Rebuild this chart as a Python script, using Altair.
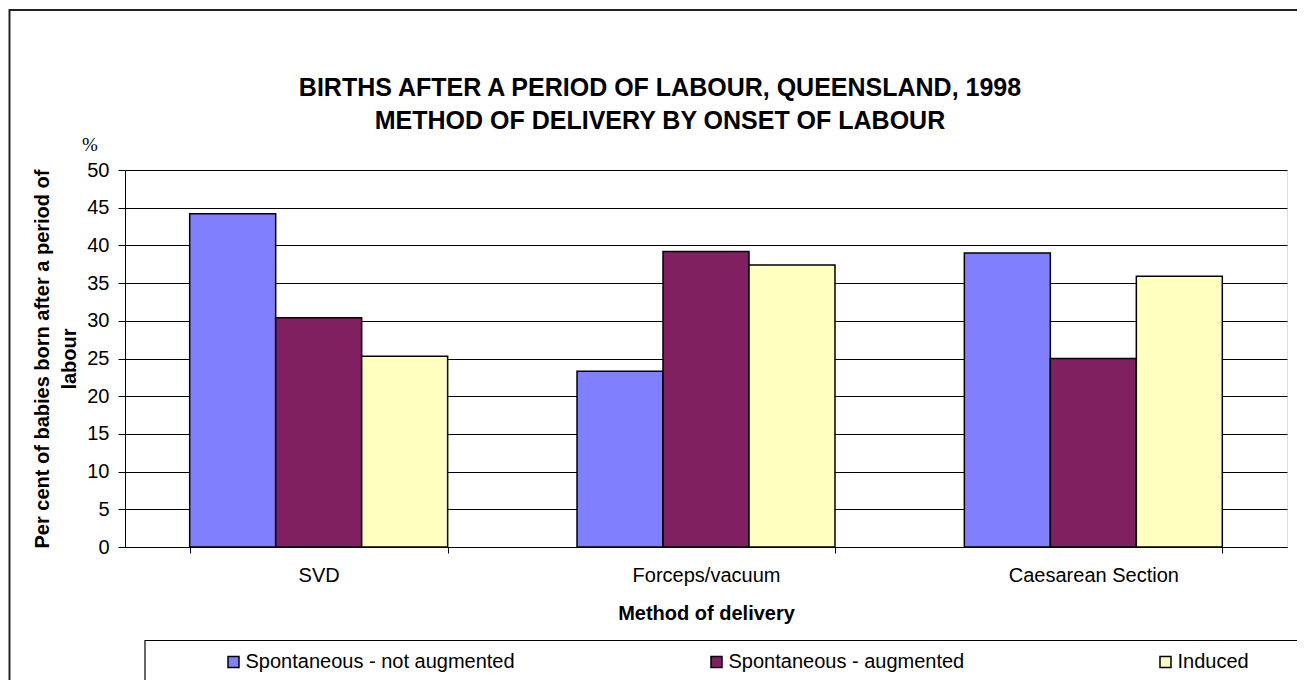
import altair as alt
import pandas as pd

methods = ["SVD", "Forceps/vacuum", "Caesarean Section"]
onsets = ["Spontaneous - not augmented", "Spontaneous - augmented", "Induced"]
not_augmented = [44.2, 23.3, 39.0]
augmented = [30.4, 39.2, 25.0]
induced = [25.3, 37.4, 35.9]
colors = ["#8080FF", "#802060", "#FFFFC0"]
y_ticks = [0, 5, 10, 15, 20, 25, 30, 35, 40, 45, 50]
title_lines = ["BIRTHS AFTER A PERIOD OF LABOUR, QUEENSLAND, 1998",
               "METHOD OF DELIVERY BY ONSET OF LABOUR"]

rows = []
for i, m in enumerate(methods):
    for onset, vals in zip(onsets, [not_augmented, augmented, induced]):
        rows.append({"method": m, "onset": onset, "pct": vals[i]})
df = pd.DataFrame(rows)

FONT = "Liberation Sans"
W, H = 1162, 377

bars = alt.Chart(df).mark_bar(stroke="black", strokeWidth=1.5).encode(
    x=alt.X(
        "method:N", sort=methods,
        scale=alt.Scale(paddingInner=0.334, paddingOuter=0.167),
        axis=alt.Axis(
            title="Method of delivery", labelAngle=0, tickBand="extent",
            labelFontSize=20, labelFont=FONT, labelColor="black", labelPadding=12,
            titleFontSize=20, titleFont=FONT, titleFontWeight="bold", titleColor="black",
            titlePadding=18, tickSize=6, tickColor="black", domainColor="black",
        ),
    ),
    xOffset=alt.XOffset("onset:N", sort=onsets, scale=alt.Scale(paddingInner=0, paddingOuter=0)),
    y=alt.Y(
        "pct:Q",
        scale=alt.Scale(domain=[0, 50], nice=False),
        axis=alt.Axis(
            values=y_ticks, title=["Per cent of babies born after a period of", "labour"],
            labelFontSize=20, labelFont=FONT, labelColor="black", labelPadding=9,
            tickSize=7, tickColor="black", domainColor="black",
            gridColor="black", gridWidth=1,
            titleFontSize=20, titleFont=FONT, titleFontWeight="bold", titleColor="black",
            titleLineHeight=27, titleAngle=270, titleX=-77, titleY=H / 2,
            titleBaseline="alphabetic", titleAlign="center",
        ),
    ),
    color=alt.Color(
        "onset:N", sort=onsets,
        scale=alt.Scale(domain=onsets, range=colors),
        legend=alt.Legend(
            title=None, orient="none", legendX=98.5, legendY=482,
            direction="horizontal", columns=3, columnPadding=191,
            symbolType="square", symbolSize=121, symbolStrokeColor="black",
            symbolStrokeWidth=1.5, symbolOpacity=1,
            labelFontSize=20, labelFont=FONT, labelColor="black",
            labelOffset=2, labelLimit=0, padding=0,
        ),
    ),
)

one = pd.DataFrame({"t": ["%"]})
titles = pd.DataFrame({"t": ["\n".join(title_lines)]})

title_text = alt.Chart(titles).mark_text(
    font=FONT, fontSize=25, fontWeight="bold", color="black",
    align="center", baseline="middle", lineBreak="\n", lineHeight=33,
).encode(text="t:N", x=alt.value(535), y=alt.value(-82))

percent = alt.Chart(one).mark_text(
    font="Liberation Serif", fontSize=19, color="black", align="center", baseline="middle"
).encode(text="t:N", x=alt.value(-35), y=alt.value(-25))

legend_box = alt.Chart(one).mark_rect(
    fillOpacity=0, stroke="black", strokeWidth=1.2
).encode(x=alt.value(20), x2=alt.value(1200), y=alt.value(470.5), y2=alt.value(512))

outer_frame = alt.Chart(one).mark_rect(
    fillOpacity=0, stroke="#222222", strokeWidth=2
).encode(x=alt.value(-115.5), x2=alt.value(1300), y=alt.value(-160), y2=alt.value(700))

chart = alt.layer(outer_frame, legend_box, bars, percent, title_text).properties(
    width=W, height=H,
    autosize=alt.AutoSizeParams(type="none"),
    padding={"left": 117, "top": 162, "right": 10, "bottom": 133},
).configure_view(stroke="#808080", strokeWidth=1).configure(background="white")

chart.save("out.html", embed_options={"renderer": "svg", "actions": False})
